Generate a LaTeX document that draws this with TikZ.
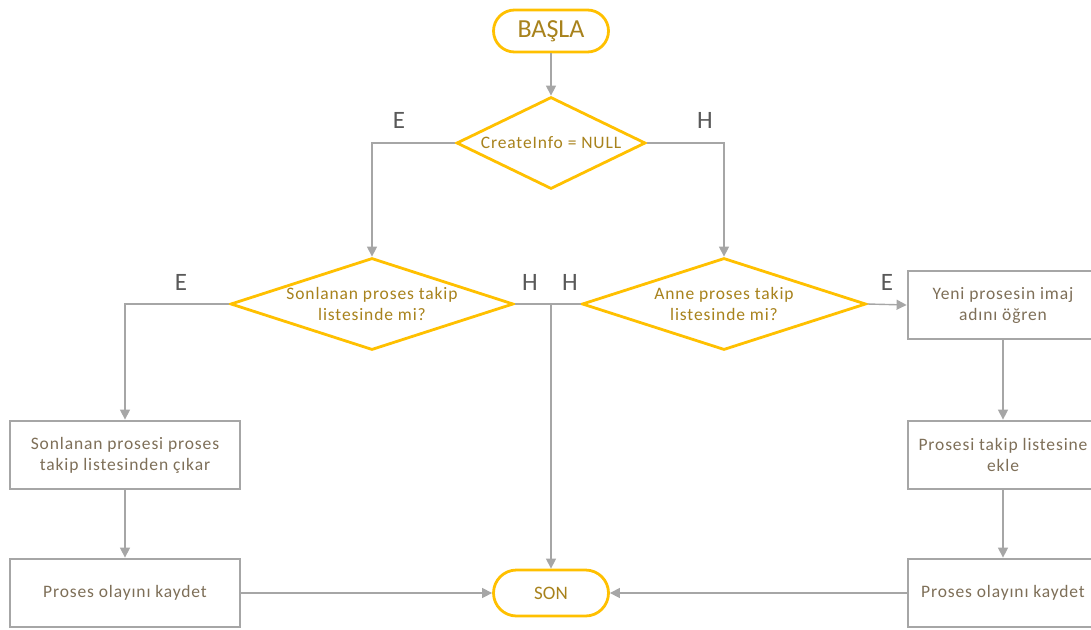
\documentclass[tikz,border=0pt]{standalone}
\usepackage{fontspec}
\setmainfont{Carlito}
\newfontfamily\flowfont[LetterSpace=5]{Carlito}
\usetikzlibrary{shapes.geometric,arrows.meta}

\definecolor{ybord}{HTML}{FFC000}
\definecolor{ytext}{HTML}{A8821C}
\definecolor{gbord}{HTML}{A6A6A6}
\definecolor{btext}{HTML}{7E6F58}
\definecolor{ltext}{HTML}{595959}

\tikzset{
  term/.style={draw=ybord, line width=2.8pt, fill=white, rounded corners=21pt,
    minimum width=115pt, text=ytext, inner sep=0pt},
  decision/.style={diamond, draw=ybord, line width=2.8pt, fill=white,
    minimum width=189pt, minimum height=92pt, inner sep=0pt},
  dtext/.style={text=ytext, align=center, font=\flowfont\fontsize{17.5}{21}\selectfont},
  proc/.style={draw=gbord, line width=2.8pt, fill=white, minimum width=230pt,
    minimum height=68pt, text=btext, align=center, inner sep=0pt,
    font=\flowfont\fontsize{17.5}{21}\selectfont},
  flow/.style={draw=gbord, line width=1.4pt, -{Triangle[length=10pt,width=10pt]}},
  link/.style={draw=gbord, line width=1.4pt},
  branch/.style={text=ltext, font=\fontsize{25}{28}\selectfont, inner sep=0pt}
}

\begin{document}
\begin{tikzpicture}[x=1pt,y=-1pt]
  \useasboundingbox (0,0) rectangle (1091,629);

  % terminals
  \node[term, minimum height=42pt, font=\fontsize{26}{29}\selectfont] (start) at (551,31) {BAŞLA};
  \node[term, minimum height=46pt, rounded corners=23pt, font=\fontsize{19}{22}\selectfont] (son) at (551,593) {SON};

  % decisions
  \node[decision] (d1) at (551,143) {};
  \node[dtext] (d1t) at (551,143) {CreateInfo = NULL};
  \node[decision, minimum width=283pt] (d2) at (372,304) {};
  \node[dtext] (d2t) at (372,304) {Sonlanan proses takip\\listesinde mi?};
  \node[decision, minimum width=284pt] (d3) at (724,304) {};
  \node[dtext] (d3t) at (724,304) {Anne proses takip\\listesinde mi?};

  % process boxes
  \node[proc] (b1) at (125,455) {Sonlanan prosesi proses\\takip listesinden çıkar};
  \node[proc] (b2) at (125,593) {Proses olayını kaydet};
  \node[proc, minimum width=190pt] (r1) at (1003,305) {Yeni prosesin imaj\\adını öğren};
  \node[proc, minimum width=190pt] (r2) at (1003,455) {Prosesi takip listesine\\ekle};
  \node[proc, minimum width=190pt] (r3) at (1003,593) {Proses olayını kaydet};

  % connectors
  \draw[flow] (start) -- (d1);
  \draw[flow] (d1.west) -| (d2.north);
  \draw[flow] (d1.east) -| (d3.north);
  \draw[flow] (d2.west) -| (b1.north);
  \draw[flow] (b1) -- (b2);
  \coordinate (j) at (son.north |- d2.east);
  \draw[link] (d2.east) -- (j);
  \draw[link] (d3.west) -- (j);
  \draw[flow] (j) -- (son.north);
  \draw[flow] (d3.east) -- (r1.west);
  \draw[flow] (r1) -- (r2);
  \draw[flow] (r2) -- (r3);
  \draw[flow] (b2.east) -- (son.west);
  \draw[flow] (r3.west) -- (son.east);

  % branch labels
  \node[branch] (l1) at (399,120) {E};
  \node[branch] (l2) at (705,120) {H};
  \node[branch] (l3) at (181,282) {E};
  \node[branch] (l4) at (530,282) {H};
  \node[branch] (l5) at (570,282) {H};
  \node[branch] (l6) at (887,282) {E};
\end{tikzpicture}
\end{document}
